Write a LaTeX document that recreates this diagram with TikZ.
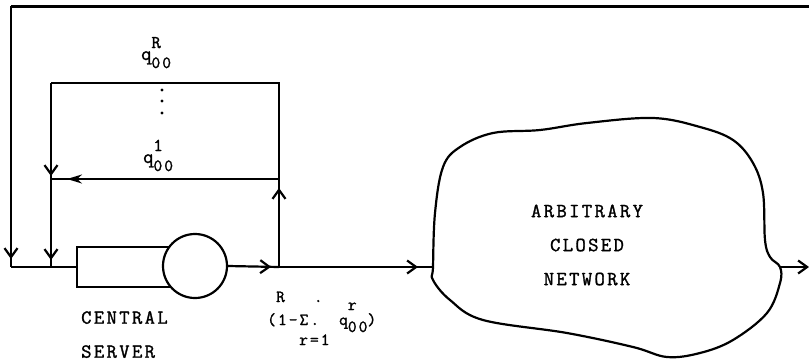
\documentclass[tikz,border=0pt]{standalone}
\usepackage{fontspec}
\newfontfamily\typefont[LetterSpace=12, FakeBold=1.5]{Latin Modern Mono}
\usetikzlibrary{arrows.meta, positioning, decorations.markings}

\newcommand{\qlab}[1]{q\rlap{\raisebox{12pt}{\fontsize{18}{18}\selectfont #1}}\raisebox{-8pt}{\fontsize{17}{17}\selectfont 00}}

\begin{document}
\begin{tikzpicture}[x=1pt, y=-1pt,
  line/.style={line width=2.2pt},
  queue/.style={draw, line width=2.2pt, minimum width=100pt, minimum height=40pt, inner sep=0pt},
  server/.style={draw, circle, line width=2.2pt, fill=white, minimum size=64pt, inner sep=0pt},
  lbl/.style={inner sep=0pt, font=\typefont\fontsize{20}{34}\selectfont},
  small/.style={inner sep=0pt, font=\typefont\fontsize{17}{17}\selectfont},
  barb/.style={postaction={decorate, decoration={markings,
      mark=at position #1 with {\arrow{Straight Barb[length=9pt, width=13pt]}}}}},
  solidarr/.style={postaction={decorate, decoration={markings,
      mark=at position #1 with {\arrow{Stealth[length=15pt, width=9pt]}}}}}
]
  \useasboundingbox (0,0) rectangle (809,362);

  % junctions
  \coordinate (topR) at (809,6);
  \coordinate (topL) at (11,6);
  \coordinate (botL) at (11,267);
  \coordinate (jIn) at (51,267);
  \coordinate (jOut) at (279,267);
  \coordinate (loopTL) at (51,83);
  \coordinate (loopTR) at (279,83);
  \coordinate (midL) at (51,179);
  \coordinate (midR) at (279,179);
  \coordinate (netIn) at (433,267);
  \coordinate (netOut) at (780,267);
  \coordinate (exit) at (809,267);

  % central server
  \node[queue] (buf) at (127,267) {};
  \node[server] (srv) at (195,266) {};
  \node[lbl, align=left, anchor=north west] (cs) at (81,311) {CENTRAL\\SERVER};

  % closed network
  \draw[line] plot[smooth cycle, tension=0.6] coordinates {(433,267) (435,213) (443,167)
    (460,147) (493,133) (540,130) (587,123) (653,118) (700,127) (733,140) (753,163)
    (763,193) (765,240) (770,257) (780,267) (780,283) (767,313) (733,340) (700,353)
    (667,357) (633,347) (567,333) (483,320) (450,300) (433,280)};
  \node[lbl, align=center] (net) at (587,245) {ARBITRARY\\CLOSED\\NETWORK};

  % feedback paths
  \draw[line, line width=3pt] (topR) -- (topL);
  \draw[line, barb=253pt] (topL) -- (botL);
  \draw[line] (botL) -- (jIn) -- (buf.west);
  \draw[line] (jOut) -- (loopTR) -- (loopTL);
  \draw[line, barb=93pt, barb=177pt] (loopTL) -- (jIn);
  \draw[line, barb=79pt] (jOut) -- (midR);
  \draw[line, solidarr=212pt] (midR) -- (midL);

  % forward path
  \draw[line, barb=43pt] (srv.east) -- (jOut);
  \draw[line, barb=139pt] (jOut) -- (netIn);
  \draw[line, -{Straight Barb[length=9pt, width=13pt]}] (netOut) -- (exit);

  % branch labels
  \node[lbl, anchor=base west] (qR) at (141,60) {\qlab{R}};
  \foreach \y in {90,101,113}
    \fill (162,\y) circle (1.6pt);
  \node[lbl, anchor=base west] (q1) at (143,163) {\qlab{1}};
  \node[small, anchor=base west] (sumTop) at (276,302) {R\hspace{29pt}.};
  \node[small, anchor=base west] (sum) at (267,325) {(1-Σ.\hspace{20pt}q\rlap{\raisebox{15pt}{r}}\raisebox{-7pt}{00})};
  \node[small, anchor=base west] (sumBot) at (299,345) {r=1};
\end{tikzpicture}
\end{document}
